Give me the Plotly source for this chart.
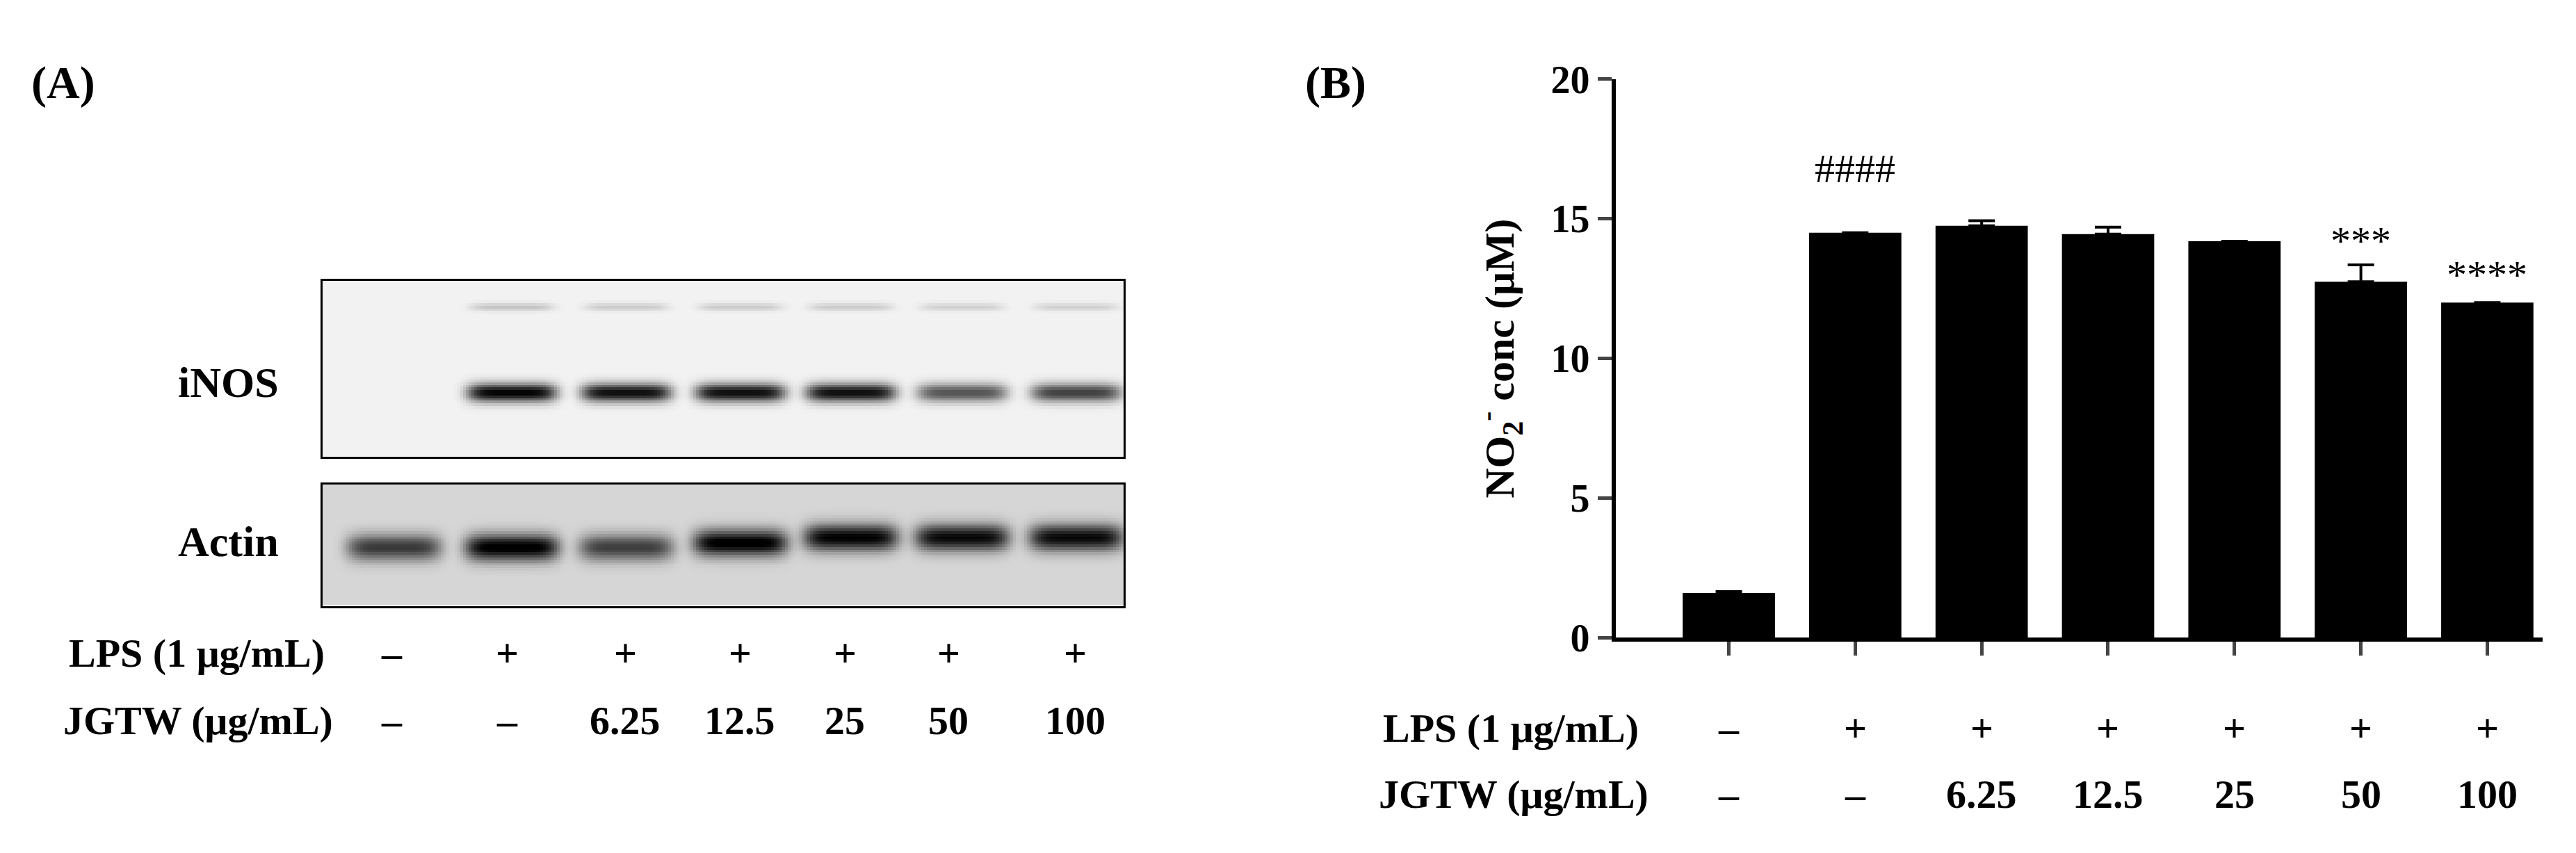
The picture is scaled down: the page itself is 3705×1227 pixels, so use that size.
import numpy as np
import plotly.graph_objects as go

# bar data (panel B)
groups = ["ctrl", "LPS", "6.25", "12.5", "25", "50", "100"]
no2_mean = [1.6, 14.5, 14.75, 14.45, 14.2, 12.75, 12.0]
no2_err = [0.05, 0.0, 0.18, 0.25, 0.0, 0.6, 0.0]
sig_labels = ["", "####", "", "", "", "***", "****"]
sig_y = [0, 16.8, 0, 0, 0, 14.2, 13.0]
lps_row = ["\u2013", "+", "+", "+", "+", "+", "+"]
jgtw_row = ["\u2013", "\u2013", "6.25", "12.5", "25", "50", "100"]

# western blot band intensities (panel A)
lane_px = [103, 273, 438, 602, 761, 921, 1085]
inos_main = [0.0, 0.95, 0.9, 0.9, 0.9, 0.62, 0.7]
inos_upper = [0.0, 0.18, 0.15, 0.15, 0.15, 0.13, 0.13]
actin_band = [0.62, 0.88, 0.6, 0.88, 0.85, 0.82, 0.82]
actin_ypos = [95, 95, 95, 88, 80, 80, 80]

W, H = 3705, 1227
FONT = "Liberation Serif"


def blot(width, height, bands, bg):
    xs = np.arange(0, width, 4)
    ys = np.arange(0, height, 4)
    X, Y = np.meshgrid(xs, ys)
    z = np.full(X.shape, bg)
    for cx, cy, amp, hw, hh in bands:
        z += amp * np.exp(-((np.abs(X - cx) / hw) ** 6) - ((Y - cy) / hh) ** 2)
    return xs, ys, np.clip(z, 0, 1)


gray = [[0, "white"], [1, "black"]]
fig = go.Figure()

bx, by, bz = blot(1153, 267,
                  [(c, 170, a, 65, 14) for c, a in zip(lane_px, inos_main)] +
                  [(c, 40, a, 60, 6) for c, a in zip(lane_px, inos_upper)], 0.05)
fig.add_trace(go.Heatmap(x=bx, y=by, z=bz, colorscale=gray, zmin=0, zmax=1,
                         showscale=False, xaxis="x2", yaxis="y2", hoverinfo="skip"))
ax, ay, az = blot(1153, 184,
                  [(c, y, a, 68, 20) for c, y, a in zip(lane_px, actin_ypos, actin_band)], 0.16)
fig.add_trace(go.Heatmap(x=ax, y=ay, z=az, colorscale=gray, zmin=0, zmax=1,
                         showscale=False, xaxis="x3", yaxis="y3", hoverinfo="skip"))

x_idx = list(range(len(groups)))
fig.add_trace(go.Bar(
    x=x_idx, y=no2_mean, width=0.73, marker=dict(color="black", line=dict(width=0)),
    error_y=dict(type="data", array=no2_err, arrayminus=[0] * len(groups), symmetric=False,
                 color="black", thickness=4, width=19),
    showlegend=False))

blot_ax = dict(showticklabels=False, ticks="", showgrid=False, zeroline=False,
               showline=True, mirror=True, linecolor="black", linewidth=3)
fig.update_layout(
    width=W, height=H, margin=dict(l=0, r=0, t=0, b=0),
    paper_bgcolor="white", plot_bgcolor="white",
    font=dict(family=FONT, color="black", size=58),
    xaxis=dict(domain=[0.625, 0.985], range=[-0.896, 6.44], tickvals=x_idx,
               showticklabels=False,
               ticks="outside", ticklen=20, tickwidth=5, showline=True, linewidth=6,
               linecolor="black", showgrid=False, zeroline=False),
    yaxis=dict(domain=[0.2453, 0.9348], range=[0, 20], tickvals=[0, 5, 10, 15, 20],
               ticks="outside", ticklen=20, tickwidth=5, showline=True, linewidth=6,
               linecolor="black", showgrid=False, zeroline=False,
               tickfont=dict(family=FONT, size=56, weight="bold"),
               title=dict(text="NO<sub>2</sub><sup>-</sup> conc (μM)", standoff=35,
                          font=dict(family=FONT, size=60, weight="bold"))),
    xaxis2=dict(domain=[0.123, 0.434], range=[0, 1153], **blot_ax),
    yaxis2=dict(domain=[0.469, 0.686], range=[267, 0], **blot_ax),
    xaxis3=dict(domain=[0.123, 0.434], range=[0, 1153], anchor="y3", **blot_ax),
    yaxis3=dict(domain=[0.284, 0.434], range=[184, 0], anchor="x3", **blot_ax),
)
fig.update_layout(xaxis2_anchor="y2", yaxis2_anchor="x2")

bold = dict(family=FONT, size=58, weight="bold")
ann = []


def text(x, y, t, xref="paper", anchor="center", size=58):
    ann.append(dict(x=x, y=y, xref=xref, yref="paper", text=t, showarrow=False,
                    xanchor=anchor, yanchor="middle", font=dict(bold, size=size)))


text(35 / W, 1 - 85 / H, "(A)", anchor="left", size=66)
text(1867 / W, 1 - 85 / H, "(B)", anchor="left", size=66)
text(395 / W, 1 - 539 / H, "iNOS", anchor="right", size=62)
text(395 / W, 1 - 780 / H, "Actin", anchor="right", size=62)
text(461 / W, 1 - 950 / H, "LPS (1 μg/mL)", anchor="right")
text(473 / W, 1 - 1052 / H, "JGTW (μg/mL)", anchor="right")
text(2351 / W, 1 - 1063 / H, "LPS (1 μg/mL)", anchor="right")
text(2365 / W, 1 - 1163 / H, "JGTW (μg/mL)", anchor="right")
lanes_a = [555, 721, 891, 1056, 1207, 1356, 1538]
for i in x_idx:
    text(lanes_a[i] / W, 1 - 950 / H, lps_row[i])
    text(lanes_a[i] / W, 1 - 1052 / H, jgtw_row[i])
    text(i, 1 - 1063 / H, lps_row[i], xref="x")
    text(i, 1 - 1163 / H, jgtw_row[i], xref="x")
    if sig_labels[i]:
        ann.append(dict(x=i, y=sig_y[i], xref="x", yref="y", text=sig_labels[i],
                        showarrow=False, font=dict(family=FONT, size=58)))
fig.update_layout(annotations=ann)

fig.write_html("out.html")
